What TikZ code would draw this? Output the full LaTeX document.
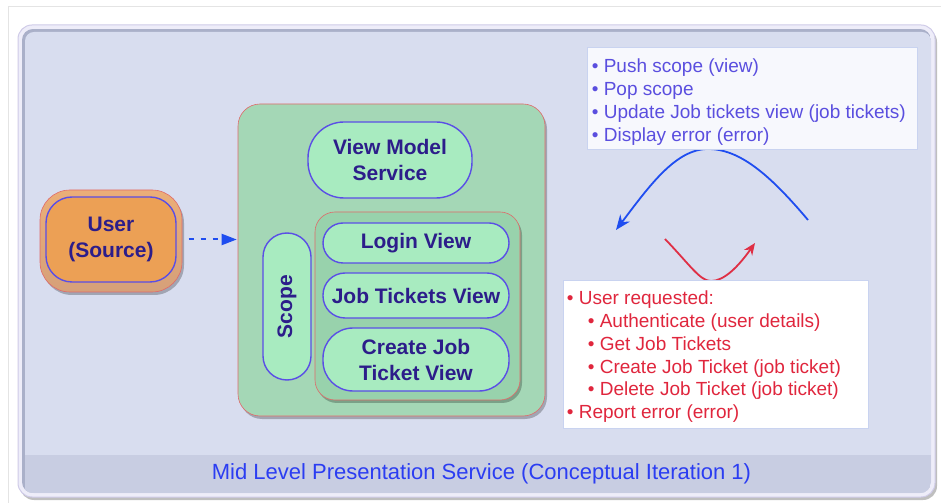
\documentclass[tikz,border=0pt]{standalone}
\usepackage{fontspec}
\setmainfont{Liberation Sans}
\usetikzlibrary{shadows,arrows.meta}

\definecolor{framegrey}{HTML}{E4E4E4}
\definecolor{rimfill}{HTML}{EEEDF9}
\definecolor{rimdraw}{HTML}{CFCBE8}
\definecolor{bevel}{HTML}{AAB0C9}
\definecolor{panelbg}{HTML}{D8DDEF}
\definecolor{band}{HTML}{C8CDE2}
\definecolor{labelblue}{HTML}{2B3DF2}
\definecolor{userorange}{HTML}{ECA055}
\definecolor{usertop}{HTML}{EBAE78}
\definecolor{userbottom}{HTML}{D6A079}
\definecolor{boxred}{HTML}{E06A6A}
\definecolor{pillblue}{HTML}{5A4EE6}
\definecolor{navy}{HTML}{2C1D8A}
\definecolor{greenbig}{HTML}{A4D7B6}
\definecolor{greeninner}{HTML}{98D2AC}
\definecolor{pillgreen}{HTML}{A8EBC0}
\definecolor{listblue}{HTML}{5A4EDF}
\definecolor{listred}{HTML}{E0263D}
\definecolor{curveblue}{HTML}{1F4DF0}
\definecolor{curvered}{HTML}{DF2F45}
\definecolor{blistfill}{HTML}{F7F8FD}
\definecolor{blistdraw}{HTML}{C9D3F0}

\begin{document}
\begin{tikzpicture}[x=1pt, y=1pt, >=Stealth,
		every node/.style={inner sep=0pt},
		boxfont/.style={font=\fontsize{21}{26}\selectfont\bfseries, text=navy, align=center},
		pill/.style={draw=pillblue, line width=1.4pt, fill=pillgreen, boxfont},
		frame/.style={draw=boxred, line width=0.6pt},
		softshadow/.style={drop shadow={shadow xshift=2pt, shadow yshift=-3pt, opacity=0.25, fill=black}},
		listfont/.style={font=\fontsize{19}{23}\selectfont, align=left, anchor=north west}]
	
	% ================= 页面与外框 =================
	\useasboundingbox (0,0) rectangle (941,503);
	\fill[white] (0,0) rectangle (941,503);
	\draw[framegrey, line width=1pt] (8.5,0) -- (8.5,496) -- (941,496);
	
	\draw[rimdraw, fill=rimfill, line width=1pt, rounded corners=14pt, softshadow] (18,6) rectangle (935,478);
	\begin{scope}
		\clip[rounded corners=11pt] (22,10) rectangle (931,474);
		\fill[bevel] (22,10) rectangle (931,474);
		\fill[panelbg, rounded corners=9pt] (25,10) rectangle (931,471);
		\fill[band] (25,10) rectangle (931,48); % 底部标题栏
	\end{scope}
	\node[font=\fontsize{22}{26}\selectfont, text=labelblue] (title) at (481.5,29) {Mid Level Presentation Service (Conceptual Iteration 1)};
	
	% ================= 左侧：用户 =================
	\node[frame, top color=usertop, bottom color=userbottom, rounded corners=30pt, minimum width=142pt, minimum height=102pt, softshadow] (userrim) at (111,262) {};
	\node[pill, fill=userorange, rounded corners=26pt, minimum width=130pt, minimum height=85pt] (user) at (111,263.5) {User\\(Source)};
	
	% ================= 中间：视图模型 =================
	\node[frame, fill=greenbig, rounded corners=22pt, minimum width=307pt, minimum height=312pt, softshadow] (vmbox) at (391.5,243) {};
	\node[pill, rounded corners=36pt, minimum width=164pt, minimum height=76pt] (vms) at (390,343) {View Model\\Service};
	\node[pill, rotate=90, rounded corners=24pt, minimum width=147pt, minimum height=48pt] (scope) at (287,196.5) {Scope};
	
	\node[frame, fill=greeninner, rounded corners=20pt, minimum width=205pt, minimum height=188pt, softshadow] (views) at (417.5,197) {};
	\node[pill, rounded corners=20pt, minimum width=186pt, minimum height=40pt] (login) at (416,260) {Login View};
	\node[pill, rounded corners=22pt, minimum width=186pt, minimum height=45pt] (tickets) at (416,207.5) {Job Tickets View};
	\node[pill, rounded corners=30pt, minimum width=186pt, minimum height=63pt] (create) at (416,143.5) {Create Job\\Ticket View};
	
	% 用户 -> 视图模型 (点线箭头)
	\draw[curveblue, line width=2pt, dash pattern=on 5pt off 7pt, shorten <=12pt, shorten >=1pt, -{Triangle[length=15pt, width=11pt]}] (user.east) -- (user.east -| vmbox.west);
	
	% ================= 右侧：双向消息 =================
	\coordinate (bstart) at (808,283);
	\coordinate (bpeak) at (708,354);
	\coordinate (bend) at (616,273);
	\draw[curveblue, line width=1.8pt, -{Stealth[length=15pt, width=12pt]}] (bstart) .. controls (770,328) and (740,354) .. (bpeak) .. controls (676,354) and (650,318) .. (bend);
	
	\coordinate (rstart) at (665,264);
	\coordinate (rlow) at (711,222);
	\coordinate (rend) at (755,260);
	\draw[curvered, line width=1.8pt, -{Stealth[length=12pt, width=10pt]}] (rstart) .. controls (690,238) and (700,222) .. (rlow) .. controls (724,222) and (738,236) .. (rend);
	
	% 消息列表
	\node[draw=blistdraw, fill=blistfill, line width=0.6pt, minimum width=330pt, minimum height=102pt] (pushlist) at (752,405) {};
	\node[listfont, text=listblue] (pushtext) at ([shift={(5,-12)}]pushlist.north west) {• Push scope (view)\\• Pop scope\\• Update Job tickets view (job tickets)\\• Display error (error)};
	
	\node[draw=blistdraw, fill=white, line width=0.6pt, minimum width=305pt, minimum height=148pt] (reqlist) at (715.5,149) {};
	\node[listfont, font=\fontsize{19}{22.8}\selectfont, text=listred] (reqtext) at ([shift={(4,-11)}]reqlist.north west) {• User requested:\\
		\hspace*{21pt}• Authenticate (user details)\\
		\hspace*{21pt}• Get Job Tickets\\
		\hspace*{21pt}• Create Job Ticket (job ticket)\\
		\hspace*{21pt}• Delete Job Ticket (job ticket)\\
		• Report error (error)};
	
\end{tikzpicture}
\end{document}
